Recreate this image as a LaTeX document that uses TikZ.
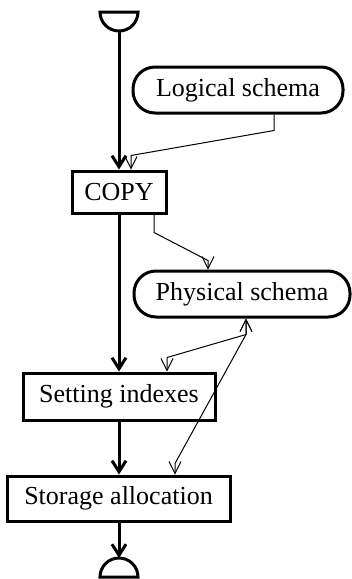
\documentclass[tikz,border=0pt]{standalone}
\usepackage{fontspec}
\setmainfont{Liberation Serif}
\usetikzlibrary{calc,arrows.meta}
\tikzset{
  procbox/.style={draw, line width=1.5pt, inner sep=0pt, font=\fontsize{13}{15}\selectfont},
  schemabox/.style={procbox, rounded corners=11pt},
  flow/.style={line width=1.5pt, -{Straight Barb[length=5.5pt,width=7pt,line width=1.5pt]}},
  dataflow/.style={line width=0.5pt, -{Straight Barb[length=6pt,width=6pt]}},
  datalink/.style={line width=0.5pt, {Straight Barb[length=6pt,width=6pt]}-{Straight Barb[length=6pt,width=6pt]}}
}

\begin{document}
\begin{tikzpicture}[x=0.5pt,y=-0.5pt]
		%%%%% START %%%%%
		\useasboundingbox (0,0) rectangle (352,579);
		
		% start and end symbols
		\draw[line width=1.5pt] (100,12) -- (138,12) arc (0:180:19) -- cycle;
		\draw[line width=1.5pt] (100,577) arc (180:360:19) -- cycle;
		\coordinate (begin) at (119,31);
		\coordinate (finish) at (119,558);
		
		\node[schemabox, minimum width=105pt, minimum height=23pt] (logical) at (238,90) {Logical schema};
		\node[procbox, minimum width=47pt, minimum height=21pt] (copy) at (119,192) {COPY};
		\node[schemabox, minimum width=108pt, minimum height=23pt] (physical) at (242,294) {Physical schema};
		\node[procbox, minimum width=96pt, minimum height=23.5pt] (indexes) at (119,396.5) {Setting indexes};
		\node[procbox, minimum width=111.5pt, minimum height=22.5pt] (storage) at (118.5,498.5) {Storage allocation};
		
		% main spine
		\draw[flow] (begin) -- (copy);
		\draw[flow] (copy) -- (indexes);
		\draw[flow] (indexes) -- (storage.north -| indexes);
		\draw[flow] (storage.south -| finish) -- (finish);
		
		% schema links
		\draw[dataflow] ($(logical.south)+(36,0)$) -- ++(0,16) -- ($(copy.north)+(12,-14)$) -- ($(copy.north)+(12,0)$);
		\draw[dataflow] ($(copy.south)+(35,0)$) -- ++(0,18) -- ($(physical.north)+(-34,-9)$) -- ($(physical.north)+(-34,0)$);
		\draw[datalink] ($(physical.south)+(4,0)$) -- ++(0,16) -- ($(indexes.north)+(48,-14)$) -- ($(indexes.north)+(48,0)$);
		\draw[datalink] ($(physical.south)+(4,0)$) -- ++(0,16) -- ($(storage.north)+(56.5,-11)$) -- ($(storage.north)+(56.5,0)$);
		
		%%%%% END %%%%%
	\end{tikzpicture}
\end{document}
